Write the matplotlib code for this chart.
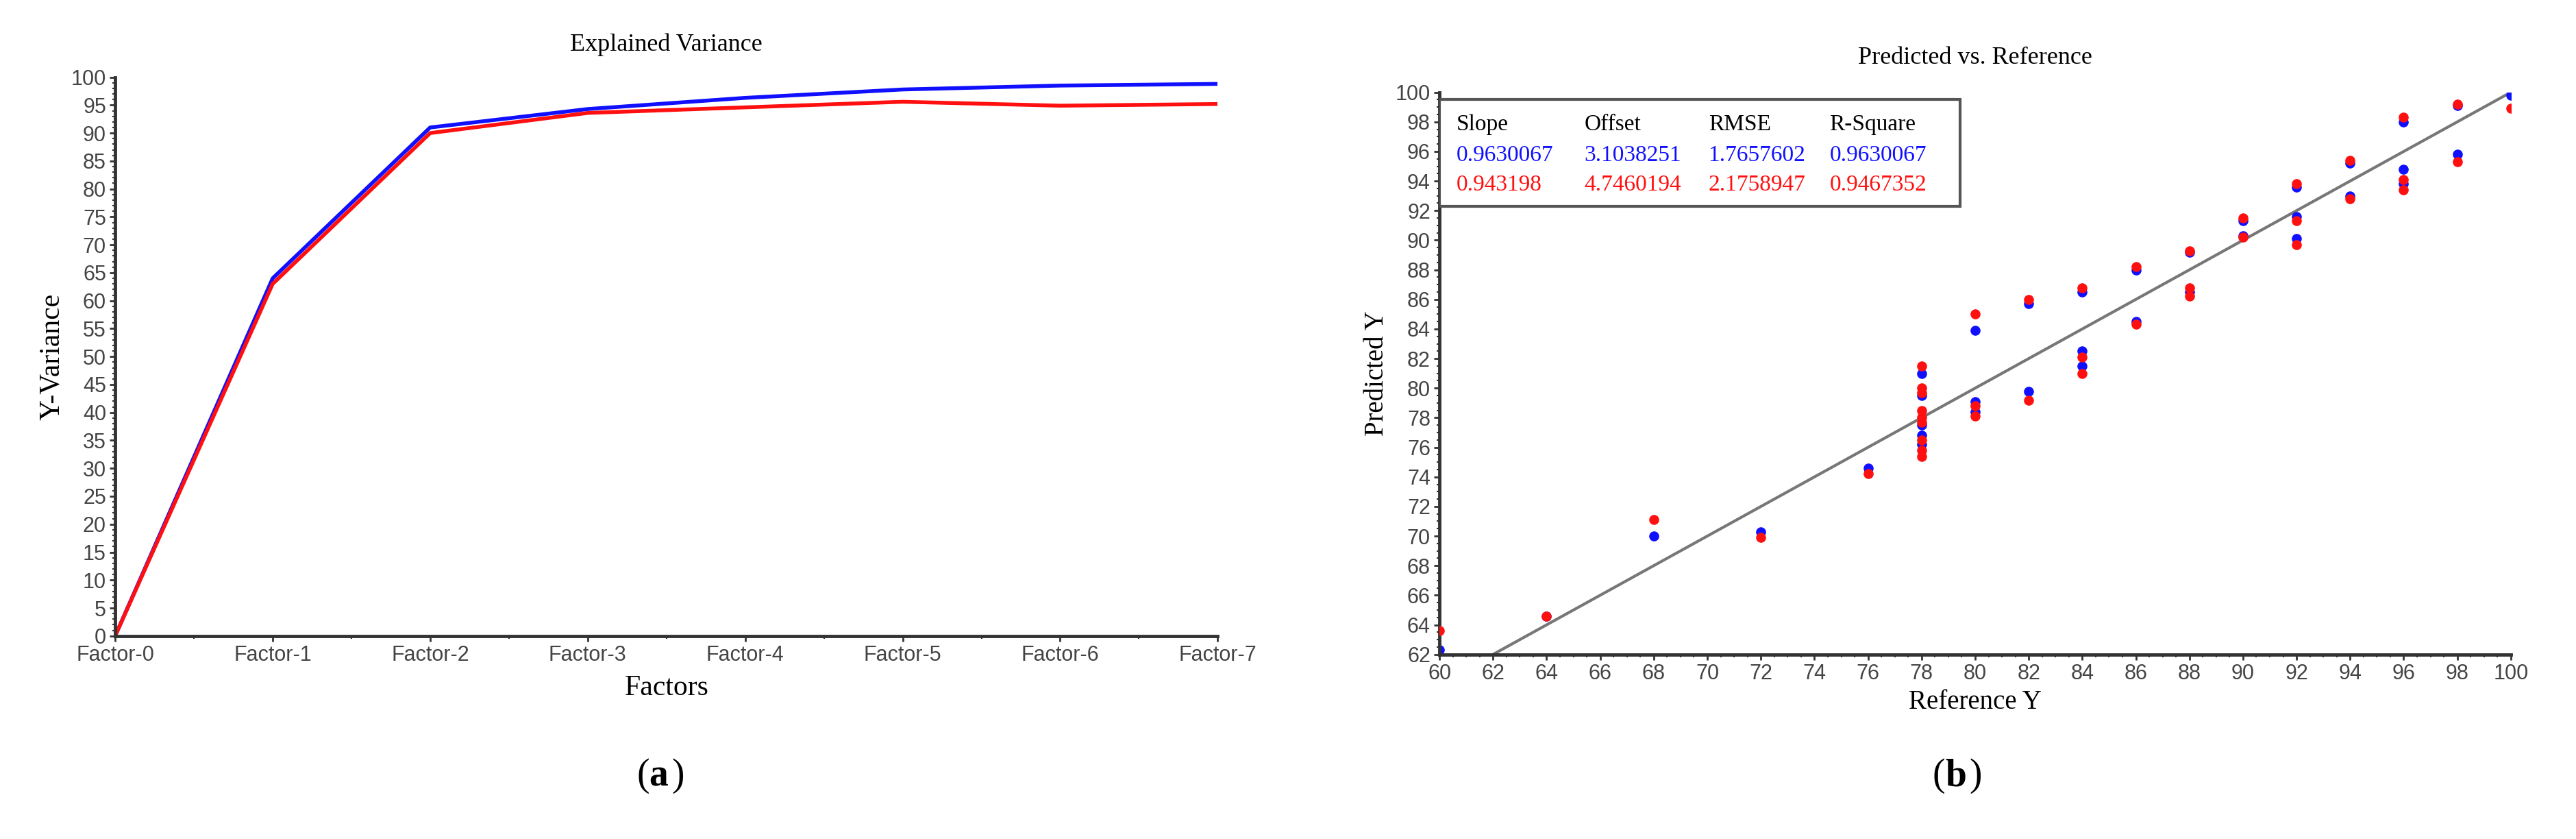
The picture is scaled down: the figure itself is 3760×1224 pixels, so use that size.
import matplotlib
matplotlib.use("Agg")
import matplotlib.pyplot as plt
from matplotlib.patches import Rectangle
from matplotlib.ticker import MultipleLocator

factors = ["Factor-0", "Factor-1", "Factor-2", "Factor-3", "Factor-4", "Factor-5", "Factor-6", "Factor-7"]
var_blue = [0, 64, 91, 94.3, 96.3, 97.8, 98.5, 98.8]
var_red = [0, 63, 90, 93.6, 94.6, 95.6, 94.9, 95.2]

ref_blue = [60, 64, 68, 72, 76, 78, 78, 78, 78, 78, 80, 80, 80, 82, 82, 84, 84, 84, 86, 86, 88, 88,
            90, 90, 92, 92, 92, 94, 94, 96, 96, 96, 98, 98, 100]
pred_blue = [62.3, 64.6, 70.0, 70.3, 74.6, 81.0, 79.5, 77.5, 76.8, 76.2, 83.9, 79.1, 78.4, 85.7, 79.8,
             86.5, 82.5, 81.5, 88.0, 84.5, 89.2, 86.5, 91.3, 90.3, 93.6, 91.6, 90.1, 95.2, 93.0,
             98.0, 94.8, 93.8, 99.1, 95.8, 99.8]
ref_red = [60, 64, 68, 72, 76, 78, 78, 78, 78, 78, 78, 78, 78, 78, 80, 80, 80, 82, 82, 84, 84, 84,
           86, 86, 88, 88, 88, 90, 90, 92, 92, 92, 94, 94, 96, 96, 96, 98, 98, 100]
pred_red = [63.6, 64.6, 71.1, 69.9, 74.2, 81.5, 80.0, 79.7, 78.5, 78.0, 77.7, 76.5, 75.8, 75.4,
            85.0, 78.8, 78.1, 86.0, 79.2, 86.8, 82.1, 81.0, 88.2, 84.3, 89.3, 86.8, 86.2,
            91.5, 90.2, 93.8, 91.3, 89.7, 95.4, 92.8, 98.3, 94.1, 93.4, 99.2, 95.3, 98.9]
target_line = [62, 100]

stat_header = ["Slope", "Offset", "RMSE", "R-Square"]
stat_blue = ["0.9630067", "3.1038251", "1.7657602", "0.9630067"]
stat_red = ["0.943198", "4.7460194", "2.1758947", "0.9467352"]

serif = ["Liberation Serif", "DejaVu Serif"]
sans = ["Liberation Sans", "DejaVu Sans"]
spine_c = "#333333"

fig = plt.figure(figsize=(37.6, 12.24), dpi=100)

# Panel a
ax1 = fig.add_axes([0.0447, 0.242, 0.428, 0.666])
x = list(range(len(factors)))
ax1.plot(x, var_blue, color="#1010ff", lw=4)
ax1.plot(x, var_red, color="#ff1010", lw=4)
ax1.set_xlim(0, 7)
ax1.set_ylim(0, 100)
ax1.set_xticks(x)
ax1.set_xticklabels(factors, fontfamily=sans, fontsize=22, color="#444444")
ax1.yaxis.set_major_locator(MultipleLocator(5))
ax1.yaxis.set_minor_locator(MultipleLocator(1))
ax1.xaxis.set_minor_locator(MultipleLocator(0.5))
for lab in ax1.get_yticklabels():
    lab.set_fontfamily(sans); lab.set_fontsize(22); lab.set_color("#444444")
ax1.set_title("Explained Variance", fontfamily=serif, fontsize=26, pad=28)
ax1.set_xlabel("Factors", fontfamily=serif, fontsize=30, labelpad=10)
ax1.set_ylabel("Y-Variance", fontfamily=serif, fontsize=30, labelpad=6)

# Panel b
ax2 = fig.add_axes([0.5588, 0.22, 0.4159, 0.67])
ax2.plot(target_line, target_line, color="#777777", lw=3, zorder=1)
ax2.scatter(ref_red, pred_red, color="#ff1010", s=90, zorder=3)
ax2.scatter(ref_blue, pred_blue, color="#1010ff", s=90, zorder=2)
ax2.set_xlim(60, 100)
ax2.set_ylim(62, 100)
ax2.xaxis.set_major_locator(MultipleLocator(2))
ax2.yaxis.set_major_locator(MultipleLocator(2))
ax2.xaxis.set_minor_locator(MultipleLocator(0.5))
ax2.yaxis.set_minor_locator(MultipleLocator(0.5))
for lab in ax2.get_xticklabels() + ax2.get_yticklabels():
    lab.set_fontfamily(sans); lab.set_fontsize(22); lab.set_color("#444444")
ax2.set_title("Predicted vs. Reference", fontfamily=serif, fontsize=26, pad=30)
ax2.set_xlabel("Reference Y", fontfamily=serif, fontsize=28, labelpad=6)
ax2.set_ylabel("Predicted Y", fontfamily=serif, fontsize=28, labelpad=6)

ax2.add_patch(Rectangle((0.0, 0.797), 0.486, 0.19, transform=ax2.transAxes,
                        facecolor="white", edgecolor="#555555", lw=3, zorder=4))
cols = [0.016, 0.135, 0.251, 0.364]
for cx, h, b, r in zip(cols, stat_header, stat_blue, stat_red):
    ax2.text(cx, 0.943, h, transform=ax2.transAxes, fontfamily=serif, fontsize=24,
             va="center", color="black", zorder=5)
    ax2.text(cx, 0.888, b, transform=ax2.transAxes, fontfamily=serif, fontsize=24,
             va="center", color="#1010ff", zorder=5)
    ax2.text(cx, 0.835, r, transform=ax2.transAxes, fontfamily=serif, fontsize=24,
             va="center", color="#ff1010", zorder=5)

for ax in (ax1, ax2):
    for s in ("top", "right"):
        ax.spines[s].set_visible(False)
    for s in ("left", "bottom"):
        ax.spines[s].set_color(spine_c); ax.spines[s].set_linewidth(3.5)
    ax.tick_params(which="major", length=6, width=2, color=spine_c)
    ax.tick_params(which="minor", length=3, width=1.5, color=spine_c)

fig.text(0.252, 0.075, "(", fontfamily=serif, fontsize=40, ha="right", va="center")
fig.text(0.252, 0.075, "a", fontfamily=serif, fontsize=40, fontweight="bold", ha="left", va="center")
fig.text(0.2608, 0.075, ")", fontfamily=serif, fontsize=40, ha="left", va="center")
fig.text(0.755, 0.075, "(", fontfamily=serif, fontsize=40, ha="right", va="center")
fig.text(0.755, 0.075, "b", fontfamily=serif, fontsize=40, fontweight="bold", ha="left", va="center")
fig.text(0.7643, 0.075, ")", fontfamily=serif, fontsize=40, ha="left", va="center")

fig.savefig("out.png", dpi=100, facecolor="white")
